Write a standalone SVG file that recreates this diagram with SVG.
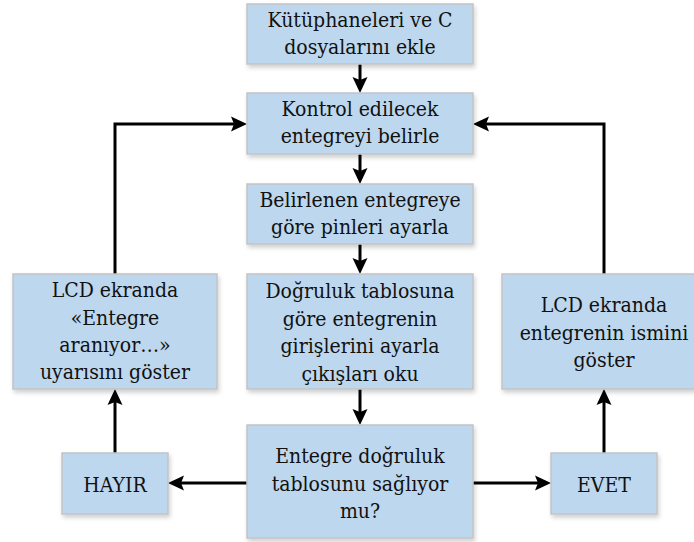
<svg xmlns="http://www.w3.org/2000/svg" width="694" height="542" viewBox="0 0 694 542">
<style>
.box{fill:#BDD7EE;stroke:#C3C3C3;stroke-width:1.5;filter:url(#sh)}
.t{font-family:'DejaVu Serif Condensed','DejaVu Serif',serif;font-stretch:condensed;font-size:21px;fill:#111;text-anchor:middle}
.c{fill:none;stroke:#000;stroke-width:3;marker-end:url(#ah)}
</style>
<defs>
<filter id="sh" x="-10%" y="-10%" width="130%" height="140%">
<feDropShadow dx="1.5" dy="3" stdDeviation="2" flood-color="#000" flood-opacity="0.18"/>
</filter>
<marker id="ah" markerUnits="userSpaceOnUse" markerWidth="16" markerHeight="16" refX="12" refY="8" orient="auto">
<path d="M0,0.5 L16,8 L0,15.5 L3,8 z" fill="#000"/>
</marker>
</defs>
<rect width="694" height="542" fill="#fff"/>
<g id="connectors">
<path class="c" d="M360,64 V89"/>
<path class="c" d="M360,154 V180"/>
<path class="c" d="M360,244 V270"/>
<path class="c" d="M360,389 V421"/>
<path class="c" d="M115,274 V124 H243"/>
<path class="c" d="M604,274 V124 H477"/>
<path class="c" d="M247,483 H172"/>
<path class="c" d="M473,483 H547"/>
<path class="c" d="M115,453 V393"/>
<path class="c" d="M604,453 V393"/>
</g>
<g id="n1"><rect class="box" x="247" y="4" width="226" height="60"/>
<text class="t"><tspan x="360" y="27">Kütüphaneleri ve C</tspan><tspan x="360" y="54">dosyalarını ekle</tspan></text></g>
<g id="n2"><rect class="box" x="247" y="93" width="226" height="61"/>
<text class="t"><tspan x="360" y="116">Kontrol edilecek</tspan><tspan x="360" y="143">entegreyi belirle</tspan></text></g>
<g id="n3"><rect class="box" x="247" y="184" width="226" height="60"/>
<text class="t"><tspan x="360" y="207">Belirlenen entegreye</tspan><tspan x="360" y="234">göre pinleri ayarla</tspan></text></g>
<g id="n4"><rect class="box" x="247" y="274" width="226" height="115"/>
<text class="t"><tspan x="360" y="298">Doğruluk tablosuna</tspan><tspan x="360" y="325.5">göre entegrenin</tspan><tspan x="360" y="353">girişlerini ayarla</tspan><tspan x="360" y="380.5">çıkışları oku</tspan></text></g>
<g id="n5"><rect class="box" x="247" y="425" width="226" height="113"/>
<text class="t"><tspan x="360" y="463">Entegre doğruluk</tspan><tspan x="360" y="490.5">tablosunu sağlıyor</tspan><tspan x="360" y="518">mu?</tspan></text></g>
<g id="n6"><rect class="box" x="13" y="274" width="204" height="115"/>
<text class="t"><tspan x="115" y="297">LCD ekranda</tspan><tspan x="115" y="325">«Entegre</tspan><tspan x="115" y="352">aranıyor…»</tspan><tspan x="115" y="379">uyarısını göster</tspan></text></g>
<g id="n7"><rect class="box" x="502" y="274" width="204" height="115"/>
<text class="t"><tspan x="604" y="312">LCD ekranda</tspan><tspan x="604" y="340">entegrenin ismini</tspan><tspan x="604" y="367">göster</tspan></text></g>
<g id="n8"><rect class="box" x="62" y="453" width="106" height="61"/>
<text class="t" x="115" y="492">HAYIR</text></g>
<g id="n9"><rect class="box" x="551" y="453" width="106" height="61"/>
<text class="t" x="604" y="492">EVET</text></g>
</svg>
